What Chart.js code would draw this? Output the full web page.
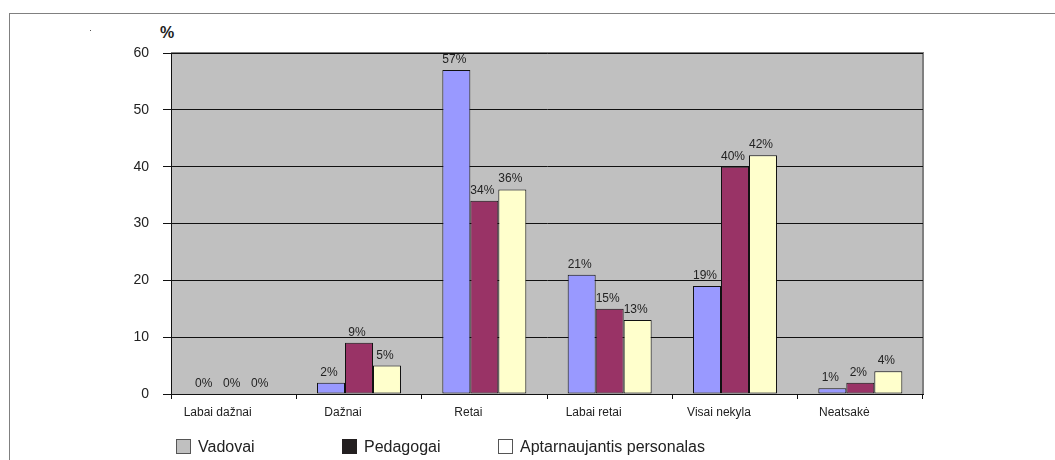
<!DOCTYPE html>
<html>
<head>
<meta charset="utf-8">
<script src="https://cdn.jsdelivr.net/npm/chart.js@4"></script>
<style>
  body { margin: 0; background: #fff; font-family: "Liberation Sans", Arial, sans-serif; }
  #wrap { position: relative; width: 1055px; height: 460px; overflow: hidden; }
  #frame { position: absolute; left: 9px; top: 13px; width: 1100px; height: 500px; border: 1px solid #808080; box-sizing: border-box; }
  #pct { position: absolute; left: 160px; top: 24px; font-size: 16px; font-weight: bold; color: #222; }
  #dot { position: absolute; left: 90px; top: 30px; width: 1px; height: 1px; background: #555; }
  .leg { position: absolute; top: 438px; font-size: 16px; color: #222; line-height: 17px; }
  .leg i { position: absolute; top: 1px; left: 0; width: 15px; height: 15px; box-sizing: border-box; border: 1px solid #555; }
  .leg span { position: absolute; left: 22px; top: 0; white-space: nowrap; }
  canvas { position: absolute; left: 0; top: 0; }
</style>
</head>
<body>
<div id="wrap">
  <div id="frame"></div>
  <div id="dot"></div>
  <div id="pct">%</div>
  <canvas id="chart" width="1055" height="460"></canvas>
  <div class="leg" style="left:176px"><i style="background:#c0c0c0"></i><span>Vadovai</span></div>
  <div class="leg" style="left:342px"><i style="background:#231f20;border-color:#231f20"></i><span>Pedagogai</span></div>
  <div class="leg" style="left:498px"><i style="background:#fff"></i><span>Aptarnaujantis personalas</span></div>
</div>
<script>
// categories and values (percent)
const categories = ['Labai dažnai', 'Dažnai', 'Retai', 'Labai retai', 'Visai nekyla', 'Neatsakė'];
const vadovai = [0, 2, 57, 21, 19, 1];
const pedagogai = [0, 9, 34, 15, 40, 2];
const aptarnaujantis = [0, 5, 36, 13, 42, 4];
const yTicks = [0, 10, 20, 30, 40, 50, 60];

// grey plot background + frame
const plotBackground = {
    id: 'plotBackground',
    beforeDraw(chart) {
        const a = chart.chartArea;
        const ctx = chart.ctx;
        ctx.save();
        ctx.fillStyle = '#c0c0c0';
        ctx.fillRect(a.left, a.top, a.right - a.left, a.bottom - a.top);
        ctx.strokeStyle = '#808080';
        ctx.lineWidth = 2;
        ctx.beginPath();
        ctx.moveTo(a.left, a.top);
        ctx.lineTo(a.right, a.top);
        ctx.lineTo(a.right, a.bottom);
        ctx.stroke();
        ctx.restore();
    }
};

// value labels above each bar
const valueLabels = {
    id: 'valueLabels',
    afterDatasetsDraw(chart) {
        const ctx = chart.ctx;
        ctx.save();
        ctx.font = '12px "Liberation Sans", Arial, sans-serif';
        ctx.fillStyle = '#222';
        ctx.textAlign = 'center';
        ctx.textBaseline = 'alphabetic';
        chart.data.datasets.forEach((ds, i) => {
            chart.getDatasetMeta(i).data.forEach((bar, j) => {
                ctx.fillText(ds.data[j] + '%', bar.x - 2, bar.y - 7);
            });
        });
        ctx.restore();
    }
};

new Chart(document.getElementById('chart'), {
    type: 'bar',
    data: {
        labels: categories,
        datasets: [
            { label: 'Vadovai', data: vadovai, backgroundColor: '#9999ff' },
            { label: 'Pedagogai', data: pedagogai, backgroundColor: '#993366' },
            { label: 'Aptarnaujantis personalas', data: aptarnaujantis, backgroundColor: '#ffffcc' }
        ]
    },
    options: {
        responsive: false,
        animation: false,
        layout: { padding: { left: 0, top: 53, right: 132, bottom: 0 } },
        datasets: {
            bar: {
                categoryPercentage: 0.67,
                barPercentage: 1,
                borderColor: '#111',
                borderWidth: 1,
                borderSkipped: false
            }
        },
        plugins: {
            legend: { display: false },
            tooltip: { enabled: false }
        },
        scales: {
            x: {
                grid: { offset: true, drawOnChartArea: false, drawTicks: true, tickLength: 5, color: '#111' },
                border: { color: '#111', width: 1 },
                ticks: { color: '#222', font: { size: 12, family: '"Liberation Sans", Arial' }, padding: 6, maxRotation: 0, labelOffset: -16 },
                afterFit(scale) { scale.height = 66; }
            },
            y: {
                min: 0,
                max: 60,
                afterBuildTicks(scale) { scale.ticks = yTicks.map(v => ({ value: v })); },
                grid: { color: '#111', tickLength: 8 },
                border: { color: '#111', width: 1 },
                ticks: { color: '#222', font: { size: 14, family: '"Liberation Sans", Arial' }, padding: 14 },
                afterFit(scale) { scale.width = 171; }
            }
        }
    },
    plugins: [plotBackground, valueLabels]
});
</script>
</body>
</html>
